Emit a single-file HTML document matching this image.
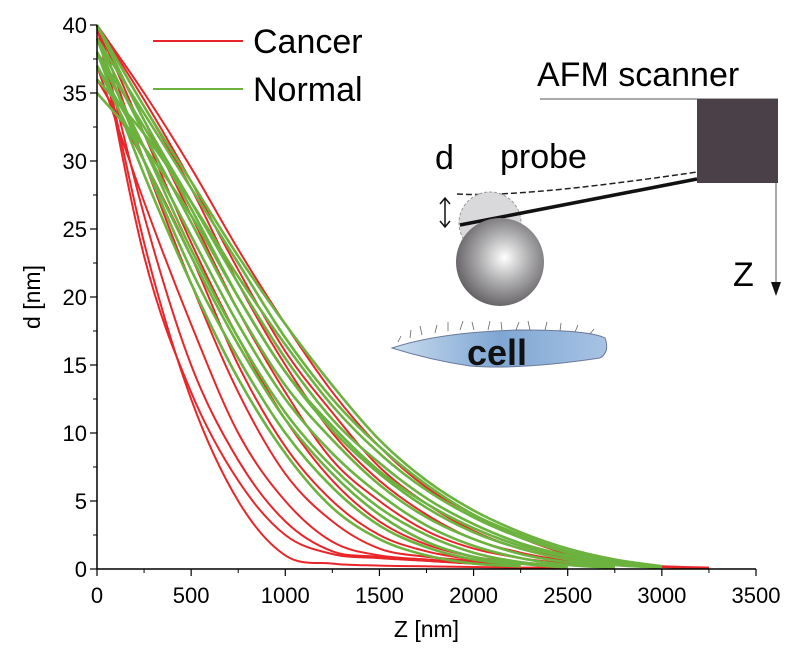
<!DOCTYPE html>
<html><head><meta charset="utf-8"><style>
html,body{margin:0;padding:0;background:#fff;}
svg{display:block;font-family:"Liberation Sans",Arial,sans-serif;}
</style></head><body>
<svg id="chart" width="800" height="651" viewBox="0 0 800 651">
<defs>
<radialGradient id="sph" cx="0.55" cy="0.45" r="0.6">
<stop offset="0" stop-color="#ffffff"/><stop offset="0.5" stop-color="#a9a8aa"/><stop offset="1" stop-color="#5d5a5e"/>
</radialGradient>
<linearGradient id="cellg" x1="0" y1="0" x2="1" y2="0">
<stop offset="0" stop-color="#c9dcef"/><stop offset="0.5" stop-color="#7fa6d3"/><stop offset="1" stop-color="#a7c3e4"/>
</linearGradient>
</defs>
<g id="plot"></g>
<g id="axes"></g>
<g>
<line x1="153" y1="41" x2="243" y2="41" stroke="#e8262a" stroke-width="2"/>
<text x="253" y="53" font-size="34">Cancer</text>
<line x1="153" y1="89" x2="243" y2="89" stroke="#6bb33e" stroke-width="2"/>
<text x="253" y="101" font-size="34">Normal</text>
</g>
<g>
<text x="537" y="86" font-size="34">AFM scanner</text>
<line x1="540" y1="99" x2="778" y2="99" stroke="#555" stroke-width="1"/>
<rect x="697" y="99" width="81" height="84" fill="#4a4048"/>
<line x1="776" y1="183" x2="776" y2="284" stroke="#555" stroke-width="1"/>
<polygon points="771,282 781,282 776,296" fill="#111"/>
<text x="733" y="286" font-size="34">Z</text>
<text x="500" y="168" font-size="34">probe</text>
<text x="435" y="169" font-size="34">d</text>
<path d="M457,194 Q520,198 697,172" fill="none" stroke="#222" stroke-width="1.5" stroke-dasharray="6,3"/>
<path d="M445,199 L445,226 M440,204 L445,198 L450,204 M440,221 L445,227 L450,221" fill="none" stroke="#111" stroke-width="1.5"/>
<circle cx="490" cy="223" r="31" fill="#d9d9db" stroke="#999" stroke-width="1" stroke-dasharray="3,2"/>
<line x1="460" y1="225" x2="697" y2="179" stroke="#111" stroke-width="3.5"/>
<circle cx="500" cy="262" r="44" fill="url(#sph)"/>
<path d="M392,348 Q440,332 520,330 Q590,330 605,338 Q610,352 600,358 Q520,370 470,366 Q430,360 392,348 Z" fill="url(#cellg)" stroke="#6a7a99" stroke-width="1"/>
<path d="M398,342 l3,-6 M410,338 l1,-8 M422,335 l-2,-9 M435,333 l2,-8 M448,331 l0,-9 M460,330 l3,-9 M474,330 l-2,-8 M488,330 l2,-9 M502,330 l-1,-8 M516,330 l3,-8 M530,330 l-2,-9 M545,330 l2,-8 M560,331 l1,-8 M575,332 l3,-7 M590,334 l4,-5" stroke="#666" stroke-width="0.8" fill="none"/>
<text x="497" y="365" font-size="36" font-weight="bold" text-anchor="middle" fill="#111">cell</text>
</g>
</svg>
<script>
const zGrid = [0,250,500,750,1000,1250,1500,1750,2000,2250,2500,2750,3000,3250];
const xTicks = [0,500,1000,1500,2000,2500,3000,3500];
const yTicks = [0,5,10,15,20,25,30,35,40];
const cancerCurves = [
 [40,24,12.5,5,1,0.4,0.25,0.2,0.15,0.1,0.1],
 [40,23,13,6.5,2.5,1.1,0.8,0.6,0.4,0.3],
 [40,26,15,8,3.5,1.3,0.9,0.6,0.4,0.2],
 [37,27,18,10,5,2,1,0.7,0.5,0.3],
 [40,30,21,13,7,3.5,1.5,0.9,0.6,0.3],
 [36,30,23,15,9,5,2.5,1.3,0.7,0.4],
 [40,32,24,17,11,6.5,3.5,1.8,0.9,0.5,0.2],
 [40,33,26,19,13,8,5,2.8,1.5,0.8,0.4,0.2],
 [40,34,28,21,15,10,6.5,4,2.2,1.2,0.6,0.3,0.1],
 [40,34.5,28.5,22,16,11.5,7.5,4.8,2.8,1.5,0.8,0.4,0.2,0.1],
 [40,35,29.5,23.5,18,13,9,6,4,2.3,1.1,0.4,0.15,0.05]
];
const normalCurves = [
 [38,29,21,14,8.5,4.5,2.2,1,0.4,0.2],
 [39,30,22,15.5,10,6,3.2,1.6,0.7,0.3],
 [38,31,23.5,17,11.5,7.5,4.5,2.5,1.2,0.5,0.2],
 [37,31,24.5,18,12.5,8.5,5.5,3.2,1.7,0.8,0.3,0.1],
 [39,32,25.5,19,13.5,9.5,6.2,3.8,2.2,1.1,0.5,0.2],
 [38,32.5,26.5,20,14.5,10.2,7,4.5,2.7,1.5,0.7,0.3,0.1],
 [40,33,27,21,15.5,11,7.8,5.2,3.3,1.9,1,0.4,0.1],
 [36,32,27,21.5,16.5,12,8.5,5.8,3.8,2.3,1.2,0.5,0.1],
 [35,31,26,20,14.5,10.5,7.2,4.8,3,1.7,0.9,0.4,0.1],
 [39,33.5,28,22.5,17,12.5,9,6.2,4,2.5,1.3,0.6,0.15],
 [40,34,28.5,23,18,13.5,9.5,6.5,4.3,2.7,1.5,0.7,0.2],
 [37,30,23,16.5,11,7,4,2,0.9,0.4,0.1]
];
const NS='http://www.w3.org/2000/svg';
const X0=97,X1=756,Y0=569,Y1=25;
function xs(v){return X0+(v-0)/3500*(X1-X0);}
function ys(v){return Y0-(v/40)*(Y0-Y1);}
function mk(tag,attrs,parent){const e=document.createElementNS(NS,tag);for(const k in attrs)e.setAttribute(k,attrs[k]);parent.appendChild(e);return e;}
function pathFor(vals){
 const pts=vals.map((v,i)=>[xs(zGrid[i]),ys(v)]);
 let d='M'+pts[0][0].toFixed(1)+','+pts[0][1].toFixed(1);
 for(let i=0;i<pts.length-1;i++){
  const p0=pts[Math.max(0,i-1)],p1=pts[i],p2=pts[i+1],p3=pts[Math.min(pts.length-1,i+2)];
  const c1=[p1[0]+(p2[0]-p0[0])/6,p1[1]+(p2[1]-p0[1])/6];
  const c2=[p2[0]-(p3[0]-p1[0])/6,p2[1]-(p3[1]-p1[1])/6];
  d+=' C'+c1[0].toFixed(1)+','+c1[1].toFixed(1)+' '+c2[0].toFixed(1)+','+c2[1].toFixed(1)+' '+p2[0].toFixed(1)+','+p2[1].toFixed(1);
 }
 return d;
}
const plot=document.getElementById('plot');
cancerCurves.forEach((c,i)=>{
 const p=mk('path',{d:pathFor(c),fill:'none',stroke:'#e8262a','stroke-width':'2'},plot);
 
 
});
normalCurves.forEach((c,i)=>{
 const p=mk('path',{d:pathFor(c),fill:'none',stroke:'#6bb33e','stroke-width':'2.6'},plot);
 
 
});
const ax=document.getElementById('axes');
const yl=mk('line',{x1:X0,y1:Y1,x2:X0,y2:Y0,stroke:'#000','stroke-width':'1.5'},ax);


const xl=mk('line',{x1:X0,y1:Y0,x2:X1,y2:Y0,stroke:'#000','stroke-width':'1.5'},ax);


yTicks.forEach(t=>{
 mk('line',{x1:X0-7,y1:ys(t),x2:X0,y2:ys(t),stroke:'#000','stroke-width':'1.2'},ax);
 if(t<40) mk('line',{x1:X0-4,y1:ys(t+2.5),x2:X0,y2:ys(t+2.5),stroke:'#000','stroke-width':'1'},ax);
 const tx=mk('text',{x:X0-10,y:ys(t)+8,'font-size':'22','text-anchor':'end'},ax);
 tx.textContent=t;
 
 
});
xTicks.forEach(t=>{
 mk('line',{x1:xs(t),y1:Y0,x2:xs(t),y2:Y0+7,stroke:'#000','stroke-width':'1.2'},ax);
 if(t<3500) mk('line',{x1:xs(t+250),y1:Y0,x2:xs(t+250),y2:Y0+4,stroke:'#000','stroke-width':'1'},ax);
 const tx=mk('text',{x:xs(t),y:Y0+34,'font-size':'22','text-anchor':'middle'},ax);
 tx.textContent=t;
 
 
});
const xt=mk('text',{x:(X0+X1)/2,y:637,'font-size':'23','text-anchor':'middle'},ax);
xt.textContent='Z [nm]';


const yt=mk('text',{x:0,y:0,'font-size':'23','text-anchor':'middle',transform:'translate(40,297) rotate(-90)'},ax);
yt.textContent='d [nm]';


</script>
</body></html>
